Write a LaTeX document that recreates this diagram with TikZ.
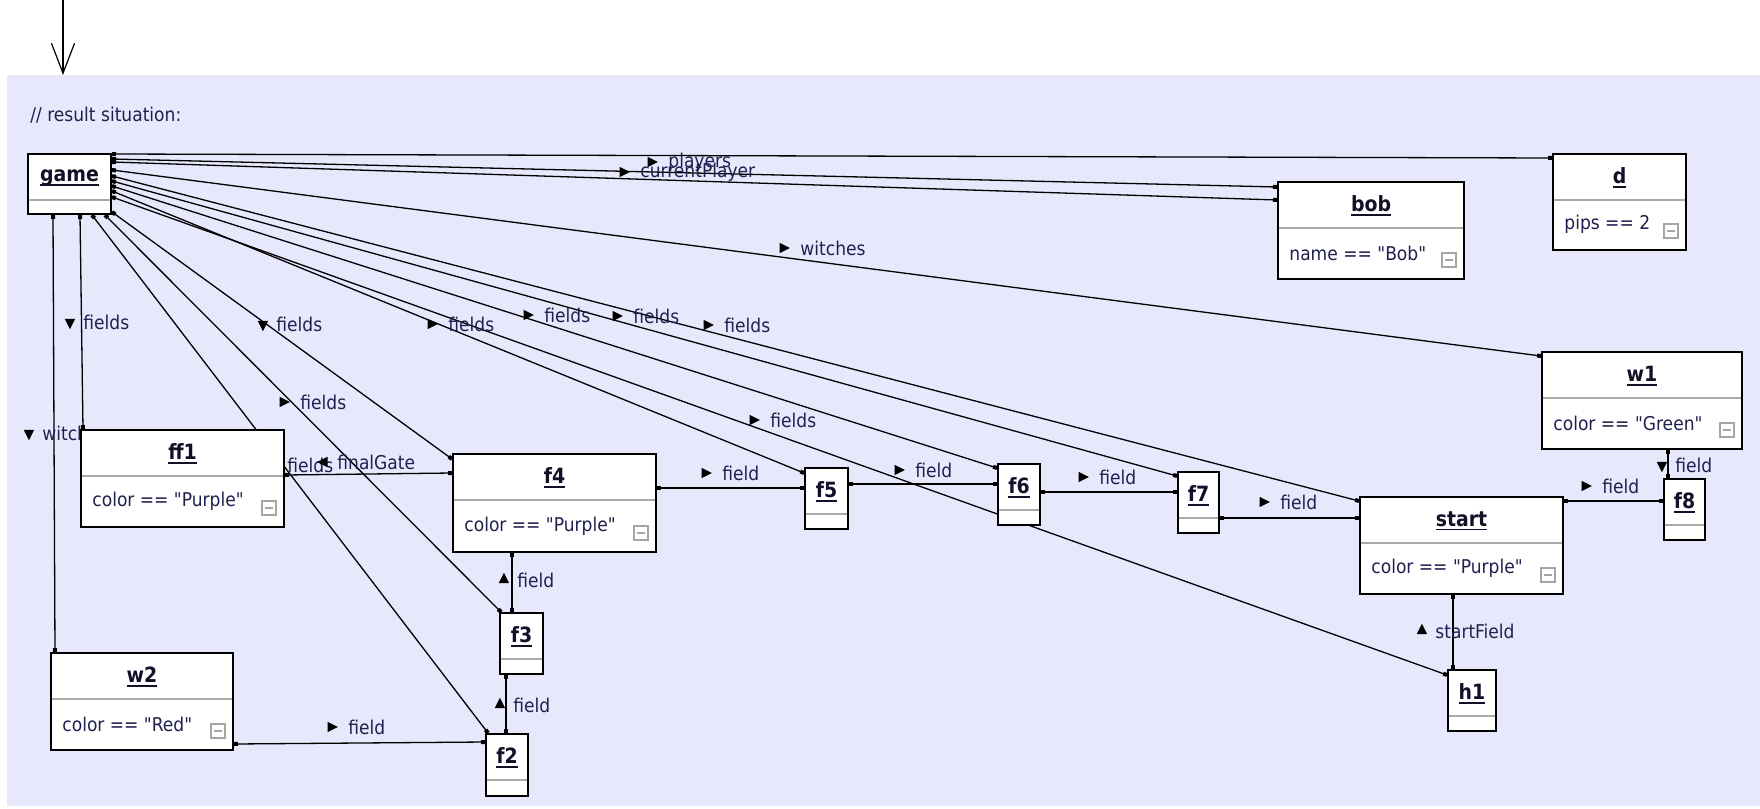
\documentclass[tikz,border=0pt]{standalone}
\usepackage{fontspec}
\setmainfont{DejaVu Sans Condensed}[BoldFont={DejaVu Sans Condensed Bold}, Ligatures=TeXOff]
\newcommand{\uname}[1]{\setbox0\hbox{#1}\rlap{\rule[-2pt]{\wd0}{0.9pt}}\box0}
\definecolor{SitFill}{RGB}{232,232,252}
\definecolor{LabelInk}{RGB}{32,32,80}
\definecolor{TitleInk}{RGB}{16,16,40}
\definecolor{DivGray}{RGB}{170,170,170}
\definecolor{IconGray}{RGB}{165,165,165}
\usetikzlibrary{arrows.meta, positioning, shapes.geometric, calc, backgrounds}
\tikzset{
  obj/.style={rectangle, draw=black, line width=1pt, fill=white,
              anchor=north west, inner sep=0pt,
              path picture={\draw[line width=1pt, draw=DivGray]
                ([yshift=-22.75pt]path picture bounding box.north west) --
                ([yshift=-22.75pt]path picture bounding box.north east);}},
  ttl/.style={anchor=center, yshift=-12.5pt, inner sep=0pt, text=TitleInk,
              font=\fontsize{10.5}{12}\selectfont\bfseries},
  attr/.style={anchor=west, xshift=6pt, yshift=13.25pt, inner sep=0pt,
               text=LabelInk, font=\fontsize{9.5}{11}\selectfont},
  mnus/.style={anchor=center, xshift=-8pt, yshift=10pt, draw=IconGray,
               line width=0.6pt, fill=white, minimum size=7pt, inner sep=0pt,
               path picture={\draw[IconGray, line width=0.8pt]
                 ([xshift=1.6pt]path picture bounding box.west) --
                 ([xshift=-1.6pt]path picture bounding box.east);}},
  lnk/.style={line width=0.65pt, arrows={Square[length=2pt]-Square[length=2pt]}},
  lbl/.style={anchor=west, inner sep=1pt, text=LabelInk,
              font=\fontsize{9.5}{11}\selectfont},
  mk/.style={isosceles triangle, isosceles triangle stretches, fill=black,
             inner sep=0pt, minimum width=5.2pt, minimum height=5.2pt,
             shape border rotate=#1, xshift=-3.5pt},
  tagR/.style={lbl, label={[mk=0]west:{}}},
  tagL/.style={lbl, label={[mk=180]west:{}}},
  tagU/.style={lbl, label={[mk=90]west:{}}},
  tagD/.style={lbl, label={[mk=-90]west:{}}},
  entryarr/.style={-{Straight Barb[length=15pt, width=11.5pt]}, line width=0.6pt},
}
\begin{document}
\begin{tikzpicture}[x=0.5pt, y=-0.5pt]
  \useasboundingbox (0,0) rectangle (1760,808);
  \begin{scope}[on background layer]
    \node[fill=SitFill, anchor=north west, inner sep=0pt,
          minimum width=876.5pt, minimum height=365.5pt] (situation) at (7,75) {};
  \end{scope}
  \coordinate (entry) at (63,0);
  \draw[entryarr] (entry) -- (entry |- situation.north);
  \node[lbl, inner sep=0pt] (note) at (30,115) {// result situation:};

  % objects
  \node[obj, minimum width=41.5pt, minimum height=30pt,
        label={[ttl]north:\uname{game}}] (game) at (27,153) {};
  \node[obj, minimum width=93pt, minimum height=48.5pt,
        label={[ttl]north:\uname{bob}},
        label={[attr]south west:name == "Bob"},
        label={[mnus]south east:{}}] (bob) at (1277,181) {};
  \node[obj, minimum width=66.5pt, minimum height=48pt,
        label={[ttl]north:\uname{d}},
        label={[attr]south west:pips == 2},
        label={[mnus]south east:{}}] (d) at (1552,153) {};
  \node[obj, minimum width=100pt, minimum height=48.5pt,
        label={[ttl]north:\uname{w1}},
        label={[attr]south west:color == "Green"},
        label={[mnus]south east:{}}] (w1) at (1541,351) {};
  \node[obj, minimum width=20.5pt, minimum height=30.5pt,
        label={[ttl]north:\uname{f8}}] (f8) at (1663,478) {};
  \node[obj, minimum width=101.5pt, minimum height=48.5pt,
        label={[ttl]north:\uname{start}},
        label={[attr]south west:color == "Purple"},
        label={[mnus]south east:{}}] (start) at (1359,496) {};
  \node[obj, minimum width=24pt, minimum height=30.5pt,
        label={[ttl]north:\uname{h1}}] (h1) at (1447,669) {};
  \node[obj, minimum width=101.5pt, minimum height=49pt,
        label={[ttl]north:\uname{f4}},
        label={[attr]south west:color == "Purple"},
        label={[mnus]south east:{}}] (f4) at (452,453) {};
  \node[obj, minimum width=21.5pt, minimum height=30.5pt,
        label={[ttl]north:\uname{f5}}] (f5) at (804,467) {};
  \node[obj, minimum width=21pt, minimum height=30.5pt,
        label={[ttl]north:\uname{f6}}] (f6) at (997,463) {};
  \node[obj, minimum width=20.5pt, minimum height=30.5pt,
        label={[ttl]north:\uname{f7}}] (f7) at (1177,471) {};
  \node[obj, minimum width=101.5pt, minimum height=48.5pt,
        label={[ttl]north:\uname{ff1}},
        label={[attr]south west:color == "Purple"},
        label={[mnus]south east:{}}] (ff1) at (80,429) {};
  \node[obj, minimum width=91pt, minimum height=48.5pt,
        label={[ttl]north:\uname{w2}},
        label={[attr]south west:color == "Red"},
        label={[mnus]south east:{}}] (w2) at (50,652) {};
  \node[obj, minimum width=21.5pt, minimum height=30.5pt,
        label={[ttl]north:\uname{f3}}] (f3) at (499,612) {};
  \node[obj, minimum width=21pt, minimum height=31pt,
        label={[ttl]north:\uname{f2}}] (f2) at (485,733) {};

  % links, under the objects
  \begin{scope}[on background layer]
    \draw[lnk] ($(game.north east)+(0,1)$) -- ($(d.north west)+(0,5)$);
    \draw[lnk] ($(game.north east)+(0,6)$) -- ($(bob.north west)+(0,6)$);
    \draw[lnk] ($(game.north east)+(0,9)$) -- ($(bob.north west)+(0,19)$);
    \draw[lnk] ($(game.north east)+(0,17)$) -- ($(w1.north west)+(0,5)$);
    \draw[lnk] ($(game.north east)+(0,23)$) -- ($(start.north west)+(0,5)$);
    \draw[lnk] ($(game.north east)+(0,28)$) -- ($(f7.north west)+(0,5)$);
    \draw[lnk] ($(game.north east)+(0,33)$) -- ($(f6.north west)+(0,5)$);
    \draw[lnk] ($(game.north east)+(0,38)$) -- ($(f5.north west)+(0,6)$);
    \draw[lnk] ($(game.north east)+(0,44)$) -- ($(h1.north west)+(0,6)$);
    \draw[lnk] ($(game.south east)+(0,-3)$) -- ($(f4.north west)+(0,6)$);
    \draw[lnk] ($(game.south east)+(-7,0)$) -- ($(f3.north west)+(2,0)$);
    \draw[lnk] ($(game.south west)+(65,0)$) -- ($(f2.north west)+(3,0)$);
    \draw[lnk] ($(game.south west)+(53,0)$) -- ($(ff1.north west)+(3,0)$);
    \draw[lnk] ($(game.south west)+(26,0)$) -- ($(w2.north west)+(5,0)$);
    \draw[lnk] ($(ff1.north east)+(0,46)$) -- ($(f4.north west)+(0,20)$);
    \draw[lnk] ($(f4.north east)+(0,35)$) -- ($(f5.north west)+(0,21)$);
    \draw[lnk] ($(f5.north east)+(0,17)$) -- ($(f6.north west)+(0,21)$);
    \draw[lnk] ($(f6.north east)+(0,29)$) -- ($(f7.north west)+(0,21)$);
    \draw[lnk] ($(f7.north east)+(0,47)$) -- ($(start.north west)+(0,22)$);
    \draw[lnk] ($(start.north east)+(0,5)$) -- ($(f8.north west)+(0,23)$);
    \draw[lnk] ($(w1.south west)+(127,0)$) -- ($(f8.north west)+(5,0)$);
    \draw[lnk] ($(start.south west)+(94,0)$) -- ($(h1.north west)+(6,0)$);
    \draw[lnk] ($(f4.south west)+(60,0)$) -- ($(f3.north west)+(13,0)$);
    \draw[lnk] ($(f2.north west)+(21,0)$) -- ($(f3.south west)+(7,0)$);
    \draw[lnk] ($(w2.south east)+(0,-7)$) -- ($(f2.north west)+(0,9)$);

    % link names
    \node[tagR] (lPlayers) at (666,162) {players};
    \node[tagR] (lCurrent) at (638,172) {currentPlayer};
    \node[tagR] (lWitchesW1) at (798,248) {witches};
    \node[tagD] (lWitchesW2) at (40,433) {witches};
    \node[tagD] (lFieldsFf1) at (81,322) {fields};
    \node[tagD] (lFieldsF4) at (274,324) {fields};
    \node[tagR] (lFieldsF3) at (298,402) {fields};
    \node[tagR] (lFieldsF2) at (285,465) {fields};
    \node[tagR] (lFieldsF5) at (446,324) {fields};
    \node[tagR] (lFieldsF6) at (542,315) {fields};
    \node[tagR] (lFieldsF7) at (631,316) {fields};
    \node[tagR] (lFieldsStart) at (722,325) {fields};
    \node[tagR] (lFieldsH1) at (768,420) {fields};
    \node[tagL] (lFinalGate) at (335,462) {finalGate};
    \node[tagR] (lF4F5) at (720,473) {field};
    \node[tagR] (lF5F6) at (913,470) {field};
    \node[tagR] (lF6F7) at (1097,477) {field};
    \node[tagR] (lF7Start) at (1278,502) {field};
    \node[tagR] (lStartF8) at (1600,486) {field};
    \node[tagD] (lW1F8) at (1673,465) {field};
    \node[tagU] (lStartH1) at (1433,631) {startField};
    \node[tagU] (lF4F3) at (515,580) {field};
    \node[tagU] (lF2F3) at (511,705) {field};
    \node[tagR] (lW2F2) at (346,727) {field};
  \end{scope}
\end{tikzpicture}
\end{document}
